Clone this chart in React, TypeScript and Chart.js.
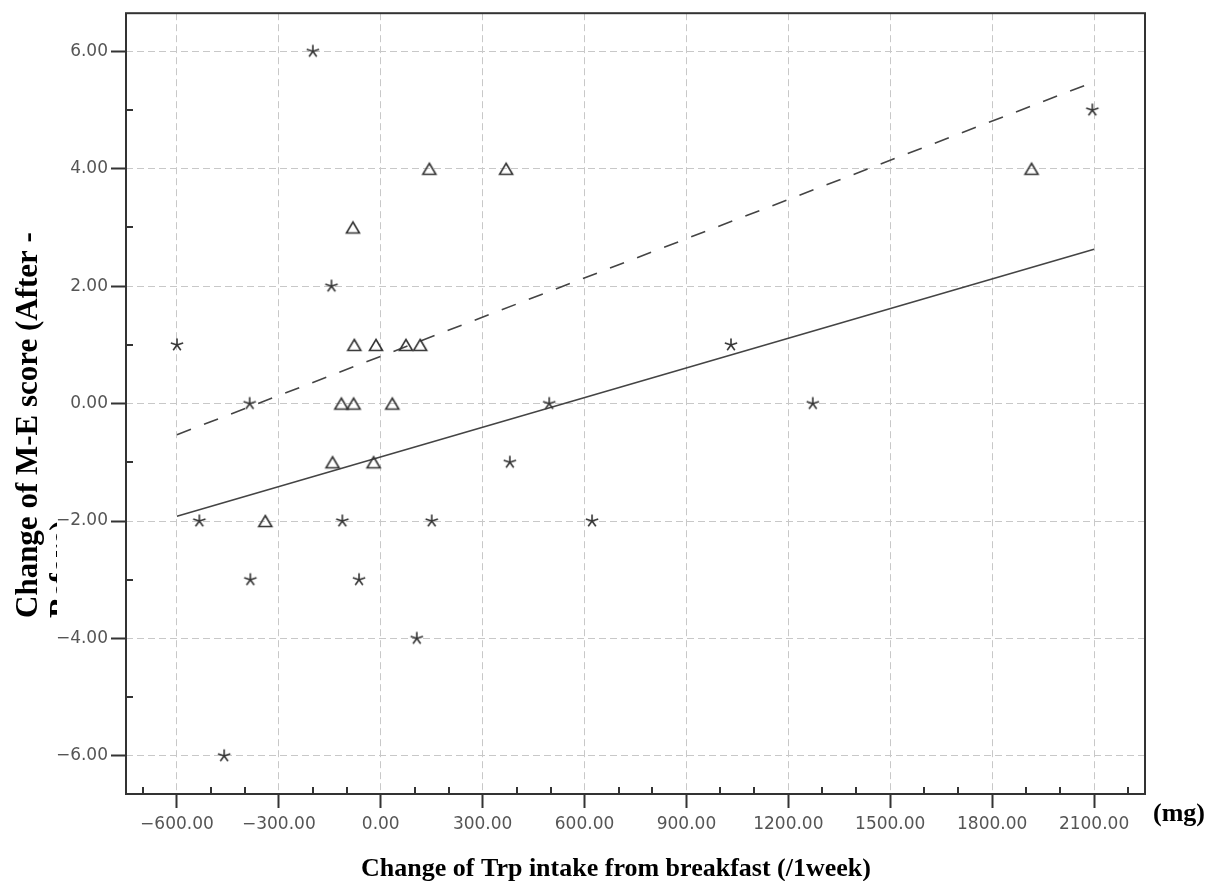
import React, { useEffect, useRef } from 'react';
import { Chart, registerables } from 'chart.js';

Chart.register(...registerables);

// ---- data ----
const STAR_X = [-600, -200, -145, -386, -534, -384, -113, -64, 150, 106, -461, 496, 380, 622, 1031, 1272, 2095];
const STAR_Y = [1, 6, 2, 0, -2, -3, -2, -3, -2, -4, -6, 0, -1, -2, 1, 0, 5];
const TRI_X = [143, -82, -78, -14, 74, 116, -116, -80, 34, -142, -21, -340, 369, 1916];
const TRI_Y = [4, 3, 1, 1, 1, 1, 0, 0, 0, -1, -1, -2, 4, 4];
const FIT_X = [-600, 2100];
const FIT_SOLID_Y = [-1.92, 2.63];
const FIT_DASHED_Y = [-0.53, 5.48];
const X_TICKS = [-600, -300, 0, 300, 600, 900, 1200, 1500, 1800, 2100];
const Y_TICKS = [-6, -4, -2, 0, 2, 4, 6];
const X_MINOR = [-700, -500, -400, -200, -100, 100, 200, 400, 500, 700, 800, 1000, 1100, 1300, 1400, 1600, 1700, 1900, 2000, 2200];
const Y_MINOR = [-5, -3, -1, 1, 3, 5];
const X_MIN = -750;
const X_MAX = 2250;
const Y_MIN = -6.65;
const Y_MAX = 6.65;
const X_TITLE = 'Change of Trp intake from breakfast (/1week)';
const Y_TITLE = ['Change of M-E score (After -', 'Before)'];
const X_UNIT = '(mg)';

const INK = '#333333';

function makeStar(r: number, lw: number): HTMLCanvasElement {
  const size = 2 * Math.ceil(r + lw + 1);
  const c = document.createElement('canvas');
  c.width = size;
  c.height = size;
  const g = c.getContext('2d')!;
  g.strokeStyle = INK;
  g.lineWidth = lw;
  const cx = size / 2;
  const cy = size / 2;
  g.beginPath();
  for (let i = 0; i < 5; i++) {
    const a = -Math.PI / 2 + (i * 2 * Math.PI) / 5;
    g.moveTo(cx, cy);
    g.lineTo(cx + r * Math.cos(a), cy + r * Math.sin(a));
  }
  g.stroke();
  return c;
}

function makeTriangle(w: number, h: number, lw: number): HTMLCanvasElement {
  const size = 2 * Math.ceil(Math.max(w, h) / 2 + lw + 1);
  const c = document.createElement('canvas');
  c.width = size;
  c.height = size;
  const g = c.getContext('2d')!;
  g.strokeStyle = INK;
  g.lineWidth = lw;
  g.lineJoin = 'miter';
  const cx = size / 2;
  const cy = size / 2;
  g.beginPath();
  g.moveTo(cx, cy - h / 2);
  g.lineTo(cx + w / 2, cy + h / 2);
  g.lineTo(cx - w / 2, cy + h / 2);
  g.closePath();
  g.stroke();
  return c;
}

const fmt = (v: number) => Number(v).toFixed(2).replace('-', '\u2212');

const decorPlugin = {
  id: 'decor',
  afterDraw(chart: any) {
    const { ctx, chartArea, scales } = chart;
    const xs = scales.x;
    const ys = scales.y;
    ctx.save();
    // minor ticks (inside)
    ctx.strokeStyle = INK;
    ctx.lineWidth = 2;
    ctx.beginPath();
    X_MINOR.forEach((v) => {
      const px = Math.round(xs.getPixelForValue(v));
      ctx.moveTo(px, chartArea.bottom);
      ctx.lineTo(px, chartArea.bottom - 7);
    });
    Y_MINOR.forEach((v) => {
      const py = Math.round(ys.getPixelForValue(v));
      ctx.moveTo(chartArea.left, py);
      ctx.lineTo(chartArea.left + 7, py);
    });
    ctx.stroke();
    // frame
    ctx.lineWidth = 2;
    ctx.strokeRect(chartArea.left, chartArea.top, chartArea.right - chartArea.left, chartArea.bottom - chartArea.top);

    // titles
    ctx.fillStyle = '#000';
    ctx.font = 'bold 26px "Liberation Serif"';
    ctx.textAlign = 'center';
    ctx.textBaseline = 'alphabetic';
    ctx.fillText(X_TITLE, 616, 876);
    ctx.textAlign = 'left';
    ctx.fillText(X_UNIT, 1153, 821);

    ctx.font = 'bold 31px "Liberation Serif"';
    ctx.save();
    ctx.translate(36.5, 618);
    ctx.rotate(-Math.PI / 2);
    ctx.fillText(Y_TITLE[0], 0, 0);
    ctx.restore();

    ctx.save();
    ctx.beginPath();
    ctx.rect(0, 0, 57, 881);
    ctx.clip();
    ctx.translate(71, 618);
    ctx.rotate(-Math.PI / 2);
    ctx.fillText(Y_TITLE[1], 0, 0);
    ctx.restore();

    ctx.restore();
  },
};

export default function App() {
  const ref = useRef<HTMLCanvasElement>(null);

  useEffect(() => {
    const canvas = ref.current;
    if (!canvas) return;
    const star = makeStar(6.5, 1.6);
    const tri = makeTriangle(13, 11, 1.6);

    const chart = new Chart(canvas, {
      type: 'scatter',
      data: {
        datasets: [
          {
            type: 'scatter',
            label: 'star',
            data: STAR_X.map((x, i) => ({ x, y: STAR_Y[i] })),
            pointStyle: star as any,
            pointRadius: 7,
            borderColor: INK,
            backgroundColor: 'transparent',
          },
          {
            type: 'scatter',
            label: 'triangle',
            data: TRI_X.map((x, i) => ({ x, y: TRI_Y[i] })),
            pointStyle: tri as any,
            pointRadius: 7,
            borderColor: INK,
            backgroundColor: 'transparent',
          },
          {
            type: 'line',
            label: 'fit solid',
            data: FIT_X.map((x, i) => ({ x, y: FIT_SOLID_Y[i] })),
            borderColor: '#444',
            borderWidth: 1.6,
            pointRadius: 0,
            fill: false,
            tension: 0,
          },
          {
            type: 'line',
            label: 'fit dashed',
            data: FIT_X.map((x, i) => ({ x, y: FIT_DASHED_Y[i] })),
            borderColor: '#444',
            borderWidth: 1.6,
            borderDash: [15, 14],
            pointRadius: 0,
            fill: false,
            tension: 0,
          },
        ] as any,
      },
      options: {
        animation: false,
        responsive: false,
        devicePixelRatio: 1,
        layout: { padding: { left: 0, right: 71, top: 10, bottom: 0 } },
        plugins: { legend: { display: false }, tooltip: { enabled: false } },
        scales: {
          x: {
            type: 'linear',
            min: X_MIN,
            max: X_MAX,
            afterBuildTicks: (s: any) => {
              s.ticks = X_TICKS.map((value) => ({ value }));
            },
            afterFit: (s: any) => {
              s.height = 87;
            },
            border: { display: false, dash: [7, 4] },
            grid: {
              color: '#c8c8c8',
              lineWidth: 1,
              drawTicks: true,
              tickLength: 14,
              tickColor: INK,
              tickWidth: 2,
            },
            ticks: {
              autoSkip: false,
              maxRotation: 0,
              minRotation: 0,
              padding: 6,
              color: '#555',
              font: { family: 'DejaVu Sans', size: 17 },
              callback: (v: any) => fmt(v),
            },
          },
          y: {
            type: 'linear',
            min: Y_MIN,
            max: Y_MAX,
            afterBuildTicks: (s: any) => {
              s.ticks = Y_TICKS.map((value) => ({ value }));
            },
            afterFit: (s: any) => {
              s.width = 126;
            },
            border: { display: false, dash: [7, 4] },
            grid: {
              color: '#c8c8c8',
              lineWidth: 1,
              drawTicks: true,
              tickLength: 15,
              tickColor: INK,
              tickWidth: 2,
            },
            ticks: {
              autoSkip: false,
              padding: 3,
              color: '#555',
              font: { family: 'DejaVu Sans', size: 17 },
              callback: (v: any) => fmt(v),
            },
          },
        },
      } as any,
      plugins: [decorPlugin],
    });
    return () => chart.destroy();
  }, []);

  return (
    <div style={{ position: 'absolute', left: 0, top: 0, width: 1216, height: 881, background: '#fff' }}>
      <canvas ref={ref} width={1216} height={881} style={{ display: 'block', width: 1216, height: 881 }} />
    </div>
  );
}
